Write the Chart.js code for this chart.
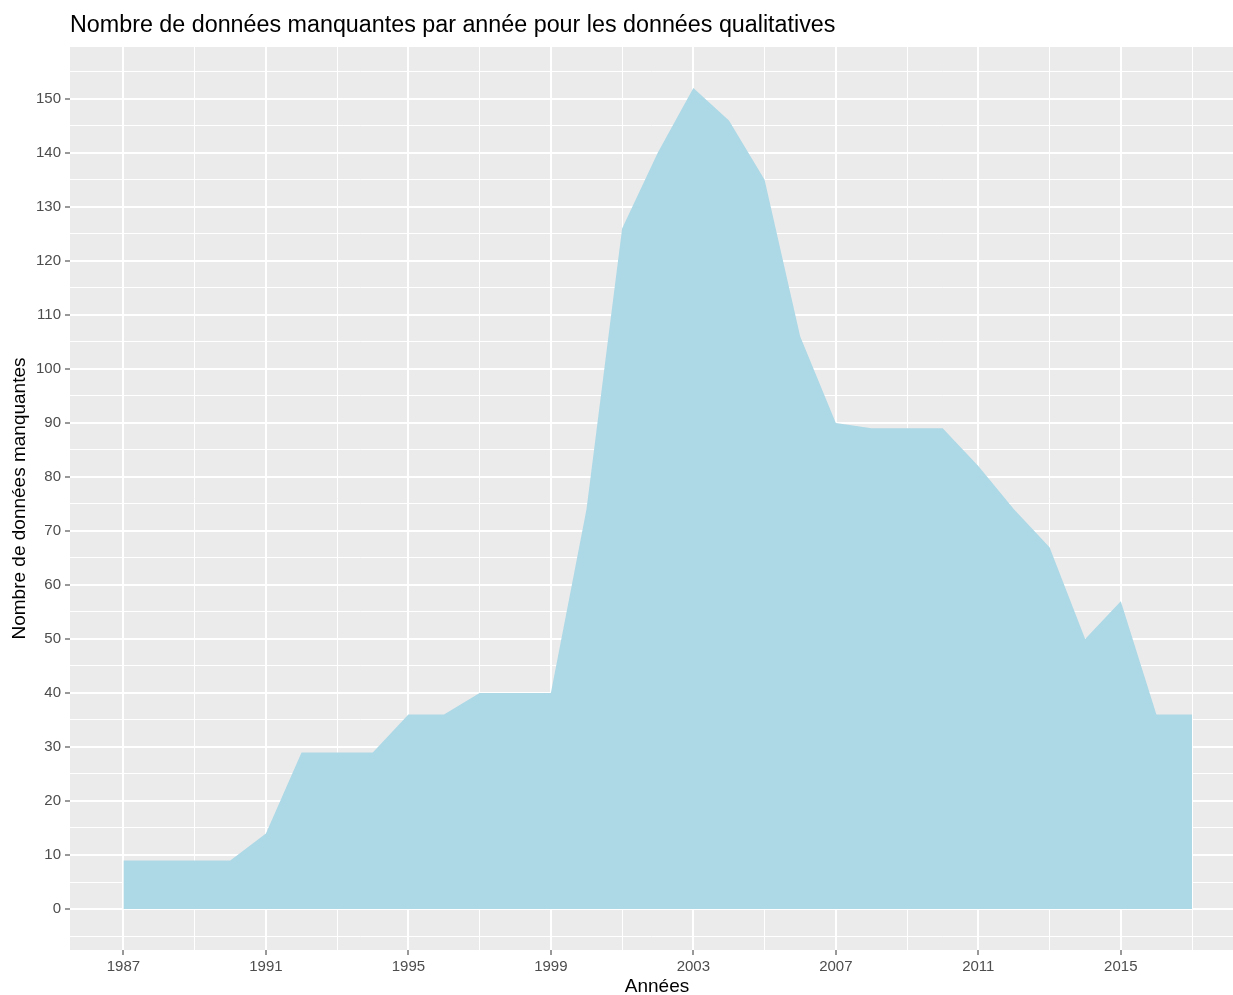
<!DOCTYPE html>
<html>
<head>
<meta charset="utf-8">
<script src="https://cdn.jsdelivr.net/npm/chart.js@4"></script>
<style>
  html, body { margin: 0; padding: 0; background: #fff; }
  #wrap { position: relative; width: 1233px; height: 995px; }
</style>
</head>
<body>
<div id="wrap"><canvas id="chart" width="1233" height="995"></canvas></div>
<script>
// Data
const years = [1987, 1988, 1989, 1990, 1991, 1992, 1993, 1994, 1995, 1996,
               1997, 1998, 1999, 2000, 2001, 2002, 2003, 2004, 2005, 2006,
               2007, 2008, 2009, 2010, 2011, 2012, 2013, 2014, 2015, 2016, 2017];
const missing = [9, 9, 9, 9, 14, 29, 29, 29, 36, 36,
                 40, 40, 40, 74, 126, 140, 152, 146, 135, 106,
                 90, 89, 89, 89, 82, 74, 67, 50, 57, 36, 36];
const xTickLabels = [1987, 1991, 1995, 1999, 2003, 2007, 2011, 2015];
const yTickLabels = [0, 10, 20, 30, 40, 50, 60, 70, 80, 90, 100, 110, 120, 130, 140, 150];

const titleText = 'Nombre de données manquantes par année pour les données qualitatives';
const xTitle = 'Années';
const yTitle = 'Nombre de données manquantes';

const FONT = '"Liberation Sans", Arial, sans-serif';

// minor grid lines halfway between majors (ggplot style)
function withMinor(majors, step) {
    const out = [];
    majors.forEach(v => { out.push(v - step / 2); out.push(v); });
    out.push(majors[majors.length - 1] + step / 2);
    return out;
}
const xGrid = withMinor(xTickLabels, 4);
const yGrid = withMinor(yTickLabels, 10);

const isMajor = (list, v) => list.includes(v);

const panelBg = {
    id: 'panelBg',
    beforeDraw(chart) {
        const { ctx, chartArea: a } = chart;
        ctx.save();
        ctx.fillStyle = '#EBEBEB';
        ctx.fillRect(a.left, a.top, a.right - a.left, a.bottom - a.top);
        ctx.restore();
    },
    afterDraw(chart) {
        const { ctx, chartArea: a } = chart;
        ctx.save();
        ctx.fillStyle = '#000';
        ctx.textBaseline = 'alphabetic';
        ctx.textAlign = 'left';
        ctx.font = '23.3px ' + FONT;
        ctx.fillText(titleText, 70, 32);

        ctx.fillStyle = '#000';
        ctx.font = '19px ' + FONT;
        ctx.textAlign = 'center';
        ctx.textBaseline = 'middle';
        ctx.fillText(xTitle, 657, 987);

        ctx.translate(20, (a.top + a.bottom) / 2);
        ctx.rotate(-Math.PI / 2);
        ctx.fillText(yTitle, 0, 0);
        ctx.restore();
    }
};

new Chart(document.getElementById('chart'), {
    type: 'line',
    data: {
        datasets: [{
            data: years.map((y, i) => ({ x: y, y: missing[i] })),
            backgroundColor: '#ADD8E6',
            borderWidth: 0,
            borderColor: 'rgba(0,0,0,0)',
            pointRadius: 0,
            fill: 'origin',
            tension: 0
        }]
    },
    options: {
        responsive: false,
        animation: false,
        events: [],
        layout: { padding: { top: 47, left: 0, right: 0, bottom: 0 } },
        plugins: {
            legend: { display: false },
            tooltip: { enabled: false }
        },
        scales: {
            x: {
                type: 'linear',
                min: 1985.5,
                max: 2018.15,
                afterBuildTicks: (axis) => { axis.ticks = xGrid.map(v => ({ value: v })); },
                afterFit: (axis) => { axis.height = 45; },
                border: { display: false },
                grid: {
                    color: '#FFFFFF',
                    lineWidth: (c) => isMajor(xTickLabels, c.tick.value) ? 2 : 1,
                    drawTicks: true,
                    tickLength: 5,
                    tickColor: (c) => isMajor(xTickLabels, c.tick.value) ? '#333333' : 'rgba(0,0,0,0)',
                    tickWidth: 1
                },
                ticks: {
                    autoSkip: false,
                    maxRotation: 0,
                    padding: 3,
                    color: '#4D4D4D',
                    font: { family: FONT, size: 15 },
                    callback: (v) => isMajor(xTickLabels, v) ? String(v) : ''
                }
            },
            y: {
                type: 'linear',
                min: -7.59,
                max: 159.6,
                afterBuildTicks: (axis) => { axis.ticks = yGrid.map(v => ({ value: v })); },
                afterFit: (axis) => { axis.width = 70; },
                border: { display: false },
                grid: {
                    color: '#FFFFFF',
                    lineWidth: (c) => isMajor(yTickLabels, c.tick.value) ? 2 : 1,
                    drawTicks: true,
                    tickLength: 5,
                    tickColor: (c) => isMajor(yTickLabels, c.tick.value) ? '#333333' : 'rgba(0,0,0,0)',
                    tickWidth: 1
                },
                ticks: {
                    autoSkip: false,
                    padding: 4,
                    color: '#4D4D4D',
                    font: { family: FONT, size: 15 },
                    callback: (v) => isMajor(yTickLabels, v) ? String(v) : ''
                }
            }
        }
    },
    plugins: [panelBg]
});
</script>
</body>
</html>
